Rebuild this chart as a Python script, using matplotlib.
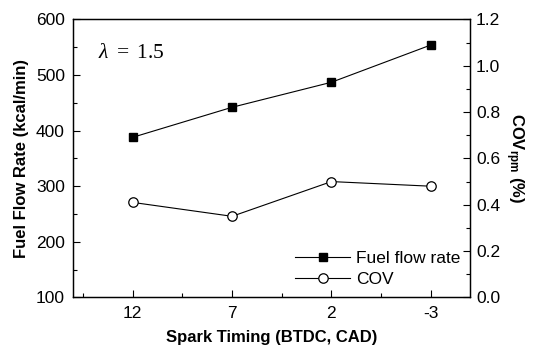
import matplotlib
matplotlib.use("Agg")
import matplotlib.pyplot as plt
from matplotlib.ticker import MultipleLocator

plt.rcParams['font.family'] = ['Liberation Sans', 'DejaVu Sans']
plt.rcParams['mathtext.fontset'] = 'custom'
plt.rcParams['mathtext.rm'] = 'Liberation Serif'
plt.rcParams['mathtext.it'] = 'Liberation Serif:italic'
plt.rcParams['mathtext.bf'] = 'Liberation Sans:bold'

# data
timing = [12, 7, 2, -3]
fuel_rate = [388, 442, 487, 554]
cov_rpm = [0.41, 0.35, 0.50, 0.48]
fuel_ticks = [100, 200, 300, 400, 500, 600]
cov_ticks = [0.0, 0.2, 0.4, 0.6, 0.8, 1.0, 1.2]

fig = plt.figure(figsize=(5.34, 3.54), dpi=100)
ax = fig.add_axes([0.137, 0.160, 0.744, 0.785])
ax2 = ax.twinx()

l1, = ax.plot(timing, fuel_rate, color='black', lw=0.8, marker='s', ms=6.2,
              mfc='black', mec='black', label='Fuel flow rate')
l2, = ax2.plot(timing, cov_rpm, color='black', lw=0.8, marker='o', ms=6.8,
               mfc='white', mec='black', mew=0.9, label='COV')

ax.set_xlim(15, -5)
ax.set_xticks(timing)
ax.set_xticks([t + 2.5 for t in timing], minor=True)
ax.set_xticklabels([str(t) for t in timing])
ax.set_ylim(fuel_ticks[0], fuel_ticks[-1])
ax.set_yticks(fuel_ticks)
ax.yaxis.set_minor_locator(MultipleLocator(50))
ax2.set_ylim(cov_ticks[0], cov_ticks[-1])
ax2.set_yticks(cov_ticks)
ax2.set_yticklabels(['%.1f' % v for v in cov_ticks])
ax2.yaxis.set_minor_locator(MultipleLocator(0.1))

fs = 12.5
ax.tick_params(axis='x', which='both', direction='in', top=False, labelsize=fs, pad=6)
ax.tick_params(axis='y', which='both', direction='in', right=False, labelsize=fs, pad=6)
ax.tick_params(which='major', length=5, width=0.8)
ax.tick_params(which='minor', length=3, width=0.8)
ax2.tick_params(axis='y', which='both', direction='in', labelsize=fs, pad=4)
ax2.tick_params(which='major', length=5, width=0.8)
ax2.tick_params(which='minor', length=3, width=0.8)
for a in (ax, ax2):
    for s in a.spines.values():
        s.set_linewidth(0.9)

ax.set_xlabel('Spark Timing (BTDC, CAD)', fontsize=12, fontweight='bold', labelpad=7)
ax.set_ylabel('Fuel Flow Rate (kcal/min)', fontsize=12, fontweight='bold', labelpad=5)
ax2.set_ylabel(r'COV$_{\mathbf{rpm}}$ (%)', fontsize=12, fontweight='bold',
               rotation=270, labelpad=18)

ax.text(0.063, 0.88, r'$\lambda\ =\ 1.5$', transform=ax.transAxes, fontsize=15.5,
        va='center')

ax2.legend([l1, l2], ['Fuel flow rate', 'COV'], loc='lower right', frameon=False,
           fontsize=fs, handlelength=3.2, handletextpad=0.3, labelspacing=0.35,
           bbox_to_anchor=(1.0, 0.0), borderaxespad=0.2)

fig.savefig('out.png', dpi=100)
